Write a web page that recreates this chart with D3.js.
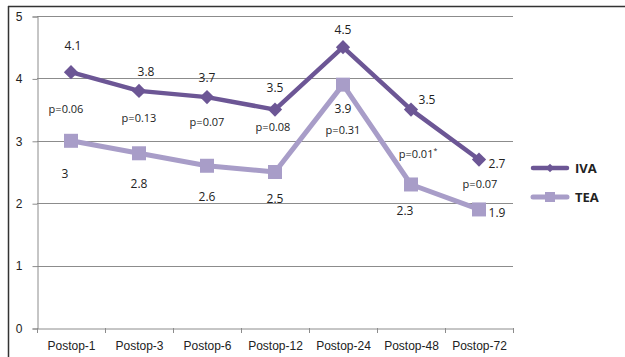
<!DOCTYPE html>
<html>
<head>
<meta charset="utf-8">
<script src="https://cdn.jsdelivr.net/npm/d3@7/dist/d3.min.js"></script>
<style>
  body { margin: 0; background: #fff; }
  svg { display: block; font-family: "Open Sans", "Noto Sans", sans-serif; }
</style>
</head>
<body>
<svg id="chart" width="625" height="357"></svg>
<script>
// Pain scores by postoperative hour
const categories = ["Postop-1", "Postop-3", "Postop-6", "Postop-12", "Postop-24", "Postop-48", "Postop-72"];
const ivaValues = [4.1, 3.8, 3.7, 3.5, 4.5, 3.5, 2.7];
const teaValues = [3, 2.8, 2.6, 2.5, 3.9, 2.3, 1.9];
const pValues = ["p=0.06", "p=0.13", "p=0.07", "p=0.08", "p=0.31", "p=0.01", "p=0.07"];
const pMarks = ["", "", "", "", "", "*", ""];
const yTicks = [0, 1, 2, 3, 4, 5];
const seriesNames = ["IVA", "TEA"];

// label placement per point: [dx, dy] relative to the point
const ivaLabelOffset = [[2, -26], [7, -19], [0, -19], [0, -22], [0, -17], [16, -10], [18, 4]];
const teaLabelOffset = [[-6, 33], [0, 31], [0, 31], [0, 27], [0, 24], [-6, 27], [18, 4]];
// p-value label placement: [dx, baseline y]
const pLabelPos = [[-5, 113], [0, 122], [0, 126], [-2, 131], [0, 134], [7, 158], [1, 188]];

const colors = { IVA: "#6c5695", TEA: "#a89dc8" };

const svg = d3.select("#chart");

// frame lines along top and left edges
svg.append("line").attr("x1", 8).attr("x2", 625).attr("y1", 6.5).attr("y2", 6.5)
  .attr("stroke", "#333").attr("stroke-width", 1.5);
svg.append("line").attr("x1", 8.5).attr("x2", 8.5).attr("y1", 6).attr("y2", 357)
  .attr("stroke", "#333").attr("stroke-width", 1.5);

const x = d3.scaleBand().domain(categories).range([37, 513]);
const y = d3.scaleLinear().domain([0, 5]).range([328, 16]);
const cx = c => x(c) + x.bandwidth() / 2;

// horizontal gridlines
svg.append("g").selectAll("line").data(yTicks.filter(t => t > 0)).join("line")
  .attr("x1", 37).attr("x2", 513)
  .attr("y1", d => Math.round(y(d)) + 0.5).attr("y2", d => Math.round(y(d)) + 0.5)
  .attr("stroke", "#8c8c8c").attr("stroke-width", 1);

// y axis
const yAxis = svg.append("g").attr("transform", "translate(37.5,0.5)")
  .call(d3.axisLeft(y).tickValues(yTicks).tickFormat(d3.format("d")).tickSize(5).tickPadding(10));
yAxis.select(".domain").attr("stroke", "#8c8c8c");
yAxis.selectAll(".tick line").attr("stroke", "#8c8c8c");
yAxis.selectAll("text").attr("font-size", 12).attr("fill", "#222");

// x axis
const xAxis = svg.append("g").attr("transform", "translate(0.5,328.5)")
  .call(d3.axisBottom(x).tickSize(0).tickPadding(13));
xAxis.select(".domain").attr("stroke", "#8c8c8c");
xAxis.selectAll("text").attr("font-size", 12).attr("fill", "#222");
// category boundary ticks
svg.append("g").selectAll("line").data(categories.concat(["end"])).join("line")
  .attr("x1", (d, i) => Math.round(37 + i * x.bandwidth()) + 0.5)
  .attr("x2", (d, i) => Math.round(37 + i * x.bandwidth()) + 0.5)
  .attr("y1", 328).attr("y2", 333)
  .attr("stroke", "#8c8c8c");

const line = d3.line().x((d, i) => cx(categories[i])).y(d => y(d));

// TEA series
svg.append("path").datum(teaValues).attr("d", line)
  .attr("fill", "none").attr("stroke", colors.TEA).attr("stroke-width", 5).attr("stroke-linejoin", "round");
svg.append("g").selectAll("rect").data(teaValues).join("rect")
  .attr("x", (d, i) => cx(categories[i]) - 7).attr("y", d => y(d) - 7)
  .attr("width", 14).attr("height", 14).attr("fill", colors.TEA);

// IVA series
svg.append("path").datum(ivaValues).attr("d", line)
  .attr("fill", "none").attr("stroke", colors.IVA).attr("stroke-width", 4.5).attr("stroke-linejoin", "round");
const diamond = d3.symbol().type(d3.symbolDiamond2).size(130);
svg.append("g").selectAll("path").data(ivaValues).join("path")
  .attr("d", diamond)
  .attr("transform", (d, i) => `translate(${cx(categories[i])},${y(d)})`)
  .attr("fill", colors.IVA);

// value labels
const valueLabel = (values, offsets) => svg.append("g").selectAll("text").data(values).join("text")
  .attr("x", (d, i) => cx(categories[i]) + offsets[i][0])
  .attr("y", (d, i) => y(d) + offsets[i][1] + 4)
  .attr("text-anchor", "middle").attr("font-size", 12).attr("fill", "#222")
  .text(d => d);
valueLabel(ivaValues, ivaLabelOffset);
valueLabel(teaValues, teaLabelOffset);

// p-value labels
const pText = svg.append("g").selectAll("text").data(pValues).join("text")
  .attr("x", (d, i) => cx(categories[i]) + pLabelPos[i][0])
  .attr("y", (d, i) => pLabelPos[i][1])
  .attr("text-anchor", "middle").attr("font-size", 11).attr("font-weight", 500).attr("fill", "#222");
pText.append("tspan").text(d => d);
pText.append("tspan").attr("font-size", 7).attr("dy", -5).text((d, i) => pMarks[i]);

// legend
const legend = svg.append("g").selectAll("g").data(seriesNames).join("g")
  .attr("transform", (d, i) => `translate(533,${168 + i * 29})`);
legend.append("line").attr("x1", 0).attr("x2", 34).attr("y1", 0).attr("y2", 0)
  .attr("stroke", d => colors[d]).attr("stroke-width", d => d === "IVA" ? 4.5 : 5).attr("stroke-linecap", "round");
legend.filter(d => d === "IVA").append("path")
  .attr("d", d3.symbol().type(d3.symbolDiamond2).size(45))
  .attr("transform", "translate(17,0)").attr("fill", colors.IVA);
legend.filter(d => d === "TEA").append("rect")
  .attr("x", 12).attr("y", -5).attr("width", 10).attr("height", 10).attr("fill", colors.TEA);
legend.append("text").attr("x", 42).attr("y", 5)
  .attr("font-size", 13).attr("font-weight", 700).attr("fill", "#222")
  .text(d => d);
</script>
</body>
</html>
